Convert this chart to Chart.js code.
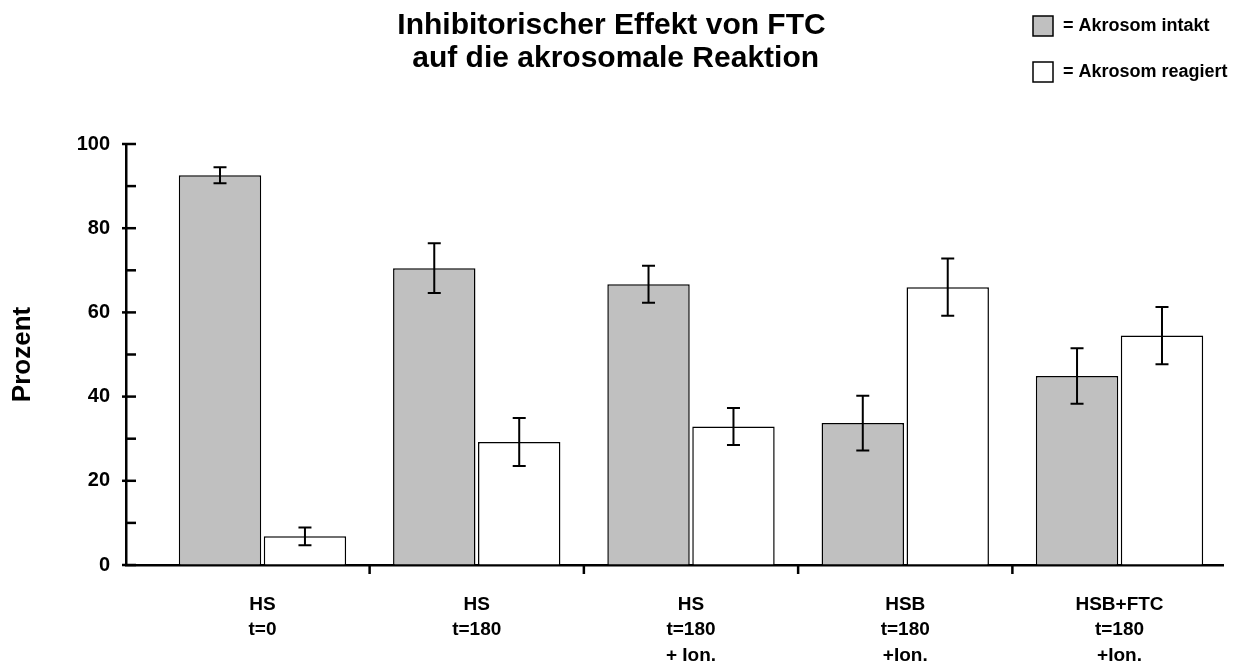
<!DOCTYPE html>
<html lang="de">
<head>
<meta charset="utf-8">
<title>Inhibitorischer Effekt von FTC</title>
<script src="https://cdn.jsdelivr.net/npm/chart.js@4.4.1/dist/chart.umd.min.js"></script>
<style>
  html, body { margin: 0; padding: 0; background: #fff; }
  #wrap { width: 1245px; height: 664px; }
</style>
</head>
<body>
<div id="wrap"><canvas id="myChart" width="1245" height="664"></canvas></div>
<script>
// Werte (Prozent, Mittelwert und Fehler)
const gruppen = [
    ['HS', 't=0'],
    ['HS', 't=180'],
    ['HS', 't=180', '+ Ion.'],
    ['HSB', 't=180', '+Ion.'],
    ['HSB+FTC', 't=180', '+Ion.']
];
const serien = ['Akrosom intakt', 'Akrosom reagiert'];
const intakt = [92.6, 70.5, 66.7, 33.7, 44.9];
const intaktFehler = [1.9, 5.9, 4.4, 6.5, 6.6];
const reagiert = [6.8, 29.2, 32.9, 66.0, 54.5];
const reagiertFehler = [2.1, 5.7, 4.4, 6.8, 6.8];
const yTicks = [0, 20, 40, 60, 80, 100];

const schrift = '"Liberation Sans", Arial, Helvetica, sans-serif';
Chart.defaults.font.family = schrift;
Chart.defaults.color = '#000';

// Fehlerbalken über jedem Balken
const fehlerbalken = {
    id: 'fehlerbalken',
    afterDatasetsDraw(chart) {
        const ctx = chart.ctx;
        const y = chart.scales.y;
        ctx.save();
        ctx.strokeStyle = '#000';
        ctx.lineWidth = 2;
        chart.data.datasets.forEach((ds, d) => {
            chart.getDatasetMeta(d).data.forEach((bar, i) => {
                const v = ds.data[i].y;
                const e = ds.fehler[i];
                const oben = y.getPixelForValue(v + e);
                const unten = y.getPixelForValue(v - e);
                ctx.beginPath();
                ctx.moveTo(bar.x, oben); ctx.lineTo(bar.x, unten);
                ctx.moveTo(bar.x - 6.5, oben); ctx.lineTo(bar.x + 6.5, oben);
                ctx.moveTo(bar.x - 6.5, unten); ctx.lineTo(bar.x + 6.5, unten);
                ctx.stroke();
            });
        });
        ctx.restore();
    }
};

// Teilstriche: y-Achse (groß bei 20er Schritten, klein dazwischen) und Gruppengrenzen an der x-Achse
const achsenStriche = {
    id: 'achsenStriche',
    afterDraw(chart) {
        const ctx = chart.ctx;
        const { x, y } = chart.scales;
        const x0 = y.right;
        const y0 = x.top;
        ctx.save();
        ctx.strokeStyle = '#000';
        ctx.lineWidth = 2.5;
        y.ticks.forEach(t => {
            const py = y.getPixelForValue(t.value);
            const gross = yTicks.includes(t.value);
            ctx.beginPath();
            ctx.moveTo(gross ? x0 - 4 : x0, py);
            ctx.lineTo(x0 + 10, py);
            ctx.stroke();
        });
        for (let i = 0; i < gruppen.length - 1; i++) {
            const px = x.getPixelForValue(i + 0.5);
            ctx.beginPath();
            ctx.moveTo(px, y0);
            ctx.lineTo(px, y0 + 9);
            ctx.stroke();
        }
        ctx.restore();
    }
};

// Legende oben rechts
const legende = {
    id: 'legende',
    afterDraw(chart) {
        const ctx = chart.ctx;
        ctx.save();
        ctx.font = 'bold 18px ' + schrift;
        ctx.textBaseline = 'middle';
        chart.data.datasets.forEach((ds, i) => {
            const mitte = 26 + i * 46;
            ctx.fillStyle = ds.backgroundColor;
            ctx.fillRect(1033, mitte - 10, 20, 20);
            ctx.strokeStyle = '#000';
            ctx.lineWidth = 1.5;
            ctx.strokeRect(1033, mitte - 10, 20, 20);
            ctx.fillStyle = '#000';
            ctx.fillText('= ' + ds.label, 1063, mitte);
        });
        ctx.restore();
    }
};

const punkte = werte => werte.map((v, i) => ({ x: i, y: v }));

new Chart(document.getElementById('myChart'), {
    type: 'bar',
    data: {
        datasets: [
            {
                label: serien[0],
                data: punkte(intakt),
                fehler: intaktFehler,
                backgroundColor: '#c0c0c0',
                borderColor: '#000',
                borderWidth: 1.5
            },
            {
                label: serien[1],
                data: punkte(reagiert),
                fehler: reagiertFehler,
                backgroundColor: '#ffffff',
                borderColor: '#000',
                borderWidth: 1.5
            }
        ]
    },
    options: {
        responsive: false,
        animation: false,
        categoryPercentage: 0.793,
        barPercentage: 0.97,
        layout: { padding: { left: 0, right: 22, top: 0, bottom: 0 } },
        plugins: {
            legend: { display: false },
            tooltip: { enabled: false },
            title: {
                display: true,
                text: ['Inhibitorischer Effekt von FTC', ' auf die akrosomale Reaktion'],
                font: { size: 30, weight: 'bold', lineHeight: 1.1 },
                color: '#000',
                padding: { top: 9, bottom: 69 }
            }
        },
        scales: {
            x: {
                type: 'linear',
                offset: false,
                min: -0.637,
                max: 4.483,
                afterBuildTicks(scale) {
                    scale.ticks = gruppen.map((g, i) => ({ value: i }));
                },
                afterFit(scale) { scale.height = 99; },
                ticks: {
                    autoSkip: false,
                    maxRotation: 0,
                    padding: 27,
                    font: { size: 19, weight: 'bold', lineHeight: 1.34 },
                    color: '#000',
                    callback: v => Number.isInteger(v) ? gruppen[v] : ''
                },
                grid: { display: false, offset: false, drawTicks: false },
                border: { color: '#000', width: 2.5 }
            },
            y: {
                min: 0,
                max: 100,
                afterFit(scale) { scale.width = 126; },
                ticks: {
                    stepSize: 10,
                    autoSkip: false,
                    padding: 16,
                    font: { size: 20, weight: 'bold' },
                    color: '#000',
                    callback: v => yTicks.includes(v) ? v : ''
                },
                grid: { drawOnChartArea: false, drawTicks: false },
                border: { color: '#000', width: 2.5 },
                title: {
                    display: true,
                    text: 'Prozent',
                    font: { size: 26, weight: 'bold' },
                    color: '#000',
                    padding: { top: 7, bottom: 0 }
                }
            }
        }
    },
    plugins: [fehlerbalken, achsenStriche, legende]
});
</script>
</body>
</html>
